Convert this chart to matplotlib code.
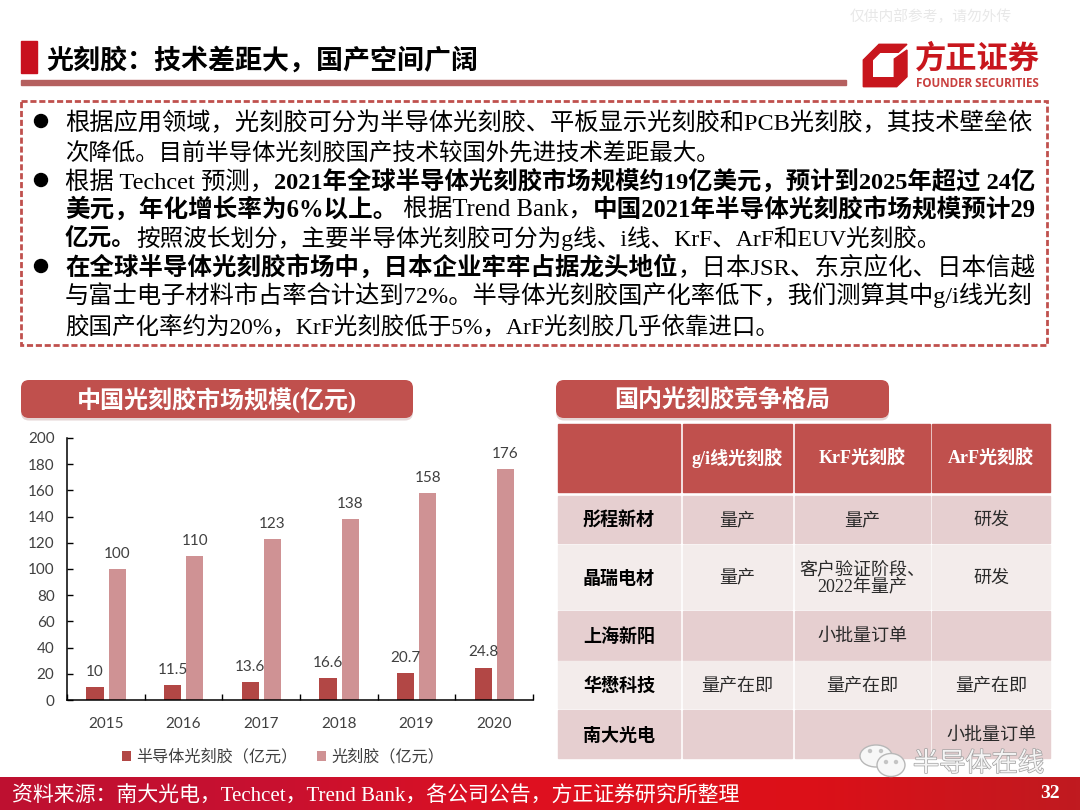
#!/usr/bin/python3

import matplotlib as mpl
import matplotlib.patheffects as pe
import matplotlib.pyplot as plt
from matplotlib.colors import LinearSegmentedColormap
from matplotlib.patches import Ellipse, FancyBboxPatch, Polygon, Rectangle
import numpy as np

MIX = ["Liberation Serif", "Noto Sans CJK SC"]
SANS = ["Noto Sans CJK SC", "DejaVu Sans"]
LABEL = ["Lato", "Noto Sans CJK SC"]
RED = "#C0504D"

# chart data
years = ["2015", "2016", "2017", "2018", "2019", "2020"]
semiResist = [10, 11.5, 13.6, 16.6, 20.7, 24.8]
allResist = [100, 110, 123, 138, 158, 176]
semiName = "半导体光刻胶（亿元）"
allName = "光刻胶（亿元）"

# table data
colNames = ["g/i线光刻胶", "KrF光刻胶", "ArF光刻胶"]
rowNames = ["彤程新材", "晶瑞电材", "上海新阳", "华懋科技", "南大光电"]
cells = [
  ["量产", "量产", "研发"],
  ["量产", "客户验证阶段、\n2022年量产", "研发"],
  ["", "小批量订单", ""],
  ["量产在即", "量产在即", "量产在即"],
  ["", "", "小批量订单"],
]

# body text, (text, bold) runs per line
bodyLines = [
  [("根据应用领域，光刻胶可分为半导体光刻胶、平板显示光刻胶和PCB光刻胶，其技术壁垒依", False)],
  [("次降低。目前半导体光刻胶国产技术较国外先进技术差距最大。", False)],
  [("根据 Techcet 预测，", False), ("2021年全球半导体光刻胶市场规模约19亿美元，预计到2025年超过 24亿", True)],
  [("美元，年化增长率为6%以上。", True), (" 根据Trend Bank，", False), ("中国2021年半导体光刻胶市场规模预计29", True)],
  [("亿元。", True), ("按照波长划分，主要半导体光刻胶可分为g线、i线、KrF、ArF和EUV光刻胶。", False)],
  [("在全球半导体光刻胶市场中，日本企业牢牢占据龙头地位", True), ("，日本JSR、东京应化、日本信越", False)],
  [("与富士电子材料市占率合计达到72%。半导体光刻胶国产化率低下，我们测算其中g/i线光刻", False)],
  [("胶国产化率约为20%，KrF光刻胶低于5%，ArF光刻胶几乎依靠进口。", False)],
]
bodyBaselines = [130, 160, 189, 217, 246, 275, 303, 333]
bodyEnds = [1036, 722, 1036, 1036, 942, 1036, 1036, 781]
bulletLines = [0, 2, 5]

fig = plt.figure(figsize=(10.8, 8.1), dpi=100, facecolor="white")
renderer = fig.canvas.get_renderer()

page = fig.add_axes([0, 0, 1, 1])
page.set_xlim(0, 1080)
page.set_ylim(810, 0)
page.axis("off")


def putRuns(runs, x0, y, size, x1=None, color="black", family=MIX):
  """Write runs left to right on one baseline, scaled to end at x1 if given."""
  texts = [page.text(x0, y, s, fontsize=size, color=color, family=family,
                     weight="bold" if b else "normal", va="baseline", zorder=6)
           for s, b in runs]
  widths = [t.get_window_extent(renderer).width for t in texts]
  scale = (x1 - x0) / sum(widths) if x1 is not None else 1
  x = x0
  for t, w in zip(texts, widths):
    t.set_position((x, y))
    t.set_fontsize(size * scale)
    x += w * scale
  return texts


# page header
page.add_patch(Rectangle((21, 41), 16, 32, color="#C8101E"))
putRuns([("光刻胶：技术差距大，国产空间广阔", True)], 46, 69, 19.5, x1=478, family=SANS)
page.add_patch(Rectangle((21, 80), 825, 5, color="#B5605F"))
putRuns([("仅供内部参考，请勿外传", False)], 850, 21, 10, x1=1012, color="#E8E8E8")

# logo
page.add_patch(Polygon([(863.3, 60), (879, 44.3), (907, 44.3), (898.3, 52.3), (880, 52.3),
                        (872.3, 60), (872.3, 77.7), (894.3, 77.7), (894.3, 59), (907, 50),
                        (907, 76.7), (896.7, 86.7), (863.3, 86.7)], color="#C8161D"))
putRuns([("方正证券", True)], 915, 68, 21, x1=1040, color="#C8161D", family=SANS)
putRuns([("FOUNDER SECURITIES", True)], 916, 87, 7, x1=1040, color="#C9403F",
        family=["Open Sans"])

# body box
page.add_patch(Rectangle((21, 101), 1026, 244, fill=False, ec=RED, lw=2,
                         ls=(0, (2.2, 1))))
for i, runs in enumerate(bodyLines):
  putRuns(runs, 65, bodyBaselines[i], 16, x1=bodyEnds[i])
for i in bulletLines:
  page.add_patch(Ellipse((41, bodyBaselines[i] - 9), 13, 13, color="black"))


def titleBar(x0, x1, label):
  for off, col in [(2.5, "#E5D5D5"), (0, RED)]:
    page.add_patch(FancyBboxPatch((x0, 380 + off), x1 - x0, 38,
                                  boxstyle="round,pad=0,rounding_size=8",
                                  ec="none", fc=col, zorder=2))
  page.text((x0 + x1) / 2, 408, label, fontsize=17.3, color="white", weight="bold",
            family=MIX, ha="center", va="baseline", zorder=3)


titleBar(21, 413, "中国光刻胶市场规模(亿元)")
titleBar(556, 889, "国内光刻胶竞争格局")

# chart
axLeft, axRight, axTop, axBottom = 67, 533, 438, 700
ax = fig.add_axes([axLeft / 1080, 1 - axBottom / 810,
                   (axRight - axLeft) / 1080, (axBottom - axTop) / 810])
ax.patch.set_alpha(0)
x = np.arange(len(years))
barWidth = 0.22
bars1 = ax.bar(x - 0.139, semiResist, barWidth, color="#B24745", label=semiName)
bars2 = ax.bar(x + 0.145, allResist, barWidth, color="#CF9294", label=allName)
ax.bar_label(bars1, labels=["%g" % v for v in semiResist], padding=6,
             fontsize=11, color="#404040", family=LABEL)
ax.bar_label(bars2, labels=["%g" % v for v in allResist], padding=6,
             fontsize=11, color="#404040", family=LABEL)
ax.set_xlim(-0.5, len(years) - 0.5)
ax.set_ylim(0, 200)
ax.set_yticks(range(0, 201, 20))
ax.set_xticks(x, years)
ax.set_xticks(np.arange(len(years) + 1) - 0.5, minor=True)
ax.tick_params(axis="x", which="major", length=0, pad=12, labelsize=11, labelcolor="#404040")
ax.tick_params(axis="x", which="minor", length=4, width=1, direction="in")
ax.tick_params(axis="y", length=4, width=1, direction="in", pad=9, labelsize=11,
               labelcolor="#404040")
for lab in ax.get_xticklabels() + ax.get_yticklabels():
  lab.set_family(LABEL)
ax.spines["top"].set_visible(False)
ax.spines["right"].set_visible(False)
ax.spines["left"].set_linewidth(1.1)
ax.spines["bottom"].set_linewidth(1.1)
ax.legend(handles=[bars1, bars2], loc="center", bbox_to_anchor=(0.464, -0.218), ncols=2,
          frameon=False, handlelength=0.55, handleheight=0.55, handletextpad=0.35,
          columnspacing=1.2, prop={"family": SANS, "size": 11.6})
for t in ax.get_legend().get_texts():
  t.set_color("#404040")

# table
colEdges = [(558, 680), (683, 792), (795, 930), (932, 1050)]
rowEdges = [(496, 543), (545, 609), (611, 660), (661, 708), (710, 758)]
rowFills = ["#E6CFD0", "#F3ECEB", "#E6CFD0", "#F3ECEB", "#E6CFD0"]

for c0, c1 in colEdges:
  page.add_patch(Rectangle((c0, 424), c1 - c0, 68, color=RED, zorder=2))
for name, (c0, c1) in zip(colNames, colEdges[1:]):
  page.text((c0 + c1) / 2, 464, name, fontsize=13, color="white", weight="bold",
            family=MIX, ha="center", va="baseline", zorder=3)
for r, (r0, r1) in enumerate(rowEdges):
  for c0, c1 in colEdges:
    page.add_patch(Rectangle((c0, r0), c1 - c0, r1 - r0, color=rowFills[r], zorder=2))
  yMid = (r0 + r1) / 2
  page.text(619, yMid + 1, rowNames[r], fontsize=13, weight="bold", family=SANS,
            ha="center", va="center", zorder=3)
  for cell, (c0, c1) in zip(cells[r], colEdges[1:]):
    page.text((c0 + c1) / 2, yMid + 1, cell, fontsize=13, color="#2A2A2A", family=MIX,
              ha="center", va="center", linespacing=1.0, zorder=3)

# footer
footerCmap = LinearSegmentedColormap.from_list(
    "footer", ["#BE1030", "#C81030", "#DF1020", "#DC1018", "#C01A20"])
page.imshow(np.linspace(0, 1, 256).reshape(1, -1), cmap=footerCmap, aspect="auto",
            extent=(0, 1080, 810, 777), zorder=4)
page.set_xlim(0, 1080)
page.set_ylim(810, 0)
putRuns([("资料来源：南大光电，Techcet，Trend Bank，各公司公告，方正证券研究所整理", False)],
        12, 802, 15, x1=743, color="white")
page.text(1050, 794, "32", fontsize=14, color="white", weight="bold", family=MIX,
          ha="center", va="center", zorder=6)

# wechat mark
for cx, cy, w, h in [(876, 756, 32, 22), (891, 765, 28, 23)]:
  page.add_patch(Ellipse((cx, cy), w, h, fc="#F7F7F7", ec="#B8B8B8", lw=1, zorder=5))
for cx, cy in [(870, 751), (881, 751), (886, 762), (896, 762)]:
  page.add_patch(Ellipse((cx, cy), 3, 3, color="#C4C4C4", zorder=5))
mark = putRuns([("半导体在线", False)], 913, 771, 19, x1=1044, color="#F5F5F5", family=SANS)
mark[0].set_path_effects([pe.withStroke(linewidth=1, foreground="#A0A0A0")])

fig.savefig("out.png", dpi=100)
